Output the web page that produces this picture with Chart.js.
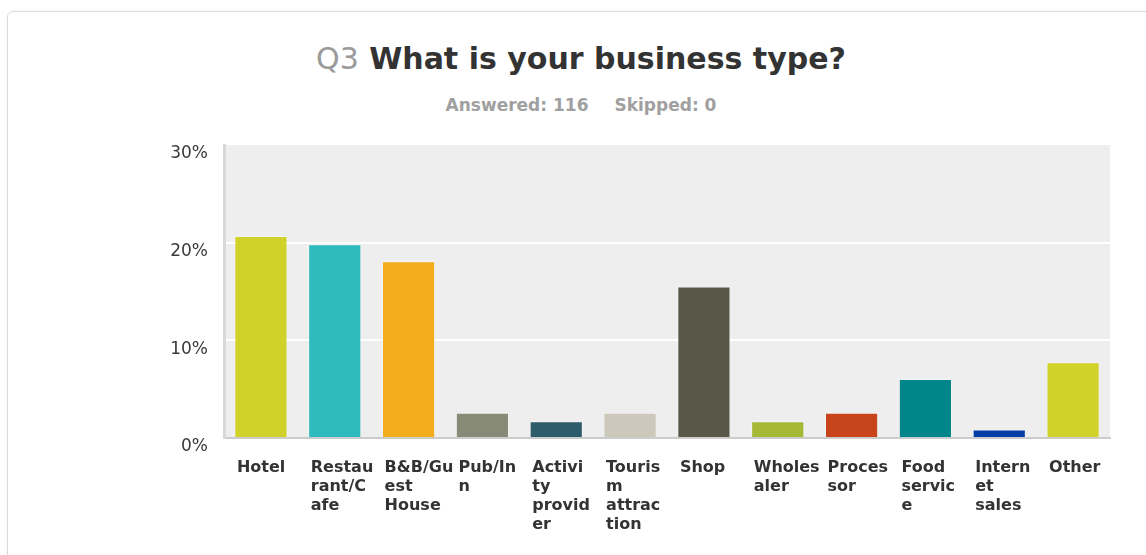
<!DOCTYPE html>
<html lang="en">
<head>
    <meta charset="UTF-8">
    <title>Q3 What is your business type?</title>
    <script src="https://cdn.jsdelivr.net/npm/chart.js"></script>
    <style>
        body {
            margin: 0;
            width: 1146px;
            height: 555px;
            overflow: hidden;
            background: #fff;
            font-family: "DejaVu Sans", Verdana, sans-serif;
        }
        .card {
            position: absolute;
            left: 7px;
            top: 11px;
            width: 1200px;
            height: 600px;
            border: 1px solid #dcdcdc;
            border-radius: 6px;
            box-shadow: 0 0 3px rgba(0, 0, 0, 0.06);
        }
        .title {
            position: absolute;
            left: 0;
            width: 1162px;
            top: 44px;
            text-align: center;
            font-size: 30px;
            line-height: 30px;
            font-weight: bold;
            color: #333;
        }
        .title .qnum { color: #9a9a9a; font-weight: normal; }
        .stats {
            position: absolute;
            left: 0;
            width: 1162px;
            top: 97px;
            text-align: center;
            font-size: 17px;
            line-height: 17px;
            font-weight: bold;
            color: #a0a0a0;
        }
        .stats span + span { margin-left: 26px; }
        #chart {
            position: absolute;
            left: 0;
            top: 0;
        }
    </style>
</head>
<body>
    <div class="card"></div>
    <div class="title"><span class="qnum">Q3</span> What is your business type?</div>
    <div class="stats"><span>Answered: 116</span><span>Skipped: 0</span></div>
    <canvas id="chart" width="1146" height="555"></canvas>

    <script>
        // answer options, wrapped the way the survey tool breaks them
        const categories = [
            ['Hotel'],
            ['Restau', 'rant/C', 'afe'],
            ['B&B/Gu', 'est', 'House'],
            ['Pub/In', 'n'],
            ['Activi', 'ty', 'provid', 'er'],
            ['Touris', 'm', 'attrac', 'tion'],
            ['Shop'],
            ['Wholes', 'aler'],
            ['Proces', 'sor'],
            ['Food', 'servic', 'e'],
            ['Intern', 'et', 'sales'],
            ['Other']
        ];

        // share of respondents (%), 116 answered
        const shares = [20.69, 19.83, 18.10, 2.59, 1.72, 2.59, 15.52, 1.72, 2.59, 6.03, 0.86, 7.76];

        const barColors = [
            '#d0d22a', '#2fbabd', '#f3ad1a', '#878a76', '#2d5c6b', '#ccc8bc',
            '#595848', '#a5b937', '#c8441a', '#00868a', '#003da6', '#d0d22a'
        ];

        const yTicks = [0, 10, 20, 30];

        // grey plot background behind the grid
        const plotBackground = {
            id: 'plotBackground',
            beforeDraw(chart) {
                const {ctx, chartArea: a} = chart;
                ctx.save();
                ctx.fillStyle = '#eeeeee';
                ctx.fillRect(a.left, a.top, a.right - a.left, a.bottom - a.top);
                ctx.restore();
            }
        };

        new Chart(document.getElementById('chart'), {
            type: 'bar',
            data: {
                labels: categories,
                datasets: [{
                    data: shares,
                    backgroundColor: barColors,
                    borderColor: 'rgba(255,255,255,0.3)',
                    borderWidth: 1,
                    barPercentage: 0.72,
                    categoryPercentage: 1
                }]
            },
            options: {
                responsive: false,
                animation: false,
                layout: { padding: { top: 145, left: 164, right: 36, bottom: 0 } },
                plugins: {
                    legend: { display: false },
                    tooltip: { enabled: false }
                },
                scales: {
                    x: {
                        grid: { display: false },
                        border: { color: '#cccccc', width: 2 },
                        afterFit(scale) { scale.height = 117; },
                        ticks: {
                            autoSkip: false,
                            maxRotation: 0,
                            align: 'start',
                            labelOffset: -24,
                            padding: 12,
                            color: '#333',
                            font: { family: '"DejaVu Sans", Verdana, sans-serif', size: 16, weight: 'bold', lineHeight: '19px' }
                        }
                    },
                    y: {
                        min: 0,
                        max: 30,
                        afterFit(scale) { scale.width = 60; },
                        afterBuildTicks(scale) { scale.ticks = yTicks.map(v => ({ value: v })); },
                        border: { color: '#d8d8d8', width: 3 },
                        grid: {
                            color: ctx => (ctx.tick && ctx.tick.value > 0 && ctx.tick.value < 30) ? '#ffffff' : 'rgba(0,0,0,0)',
                            lineWidth: 2,
                            drawTicks: false
                        },
                        ticks: {
                            padding: 16,
                            labelOffset: 9,
                            color: '#3a3a3a',
                            font: { family: '"DejaVu Sans", Verdana, sans-serif', size: 17 },
                            callback: v => v + '%'
                        }
                    }
                }
            },
            plugins: [plotBackground]
        });
    </script>
</body>
</html>
